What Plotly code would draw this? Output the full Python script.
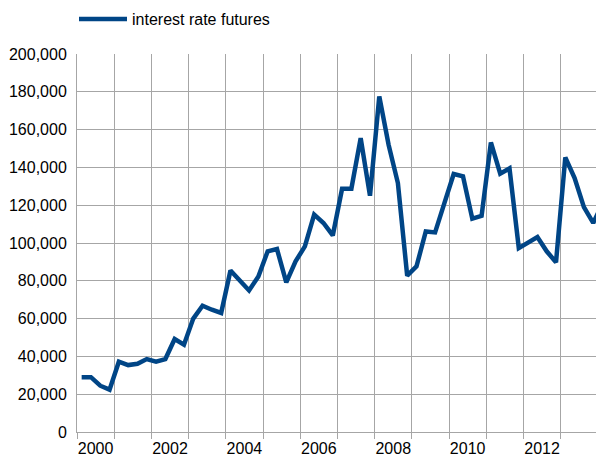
import plotly.graph_objects as go

# Quarterly observations, 2000 Q1 .. 2014 Q1
quarters = [f"{y}Q{q}" for y in range(2000, 2014) for q in range(1, 5)] + ["2014Q1"]
values = [
    29000, 29000, 24500, 22400,
    37200, 35400, 36100, 38600,
    37200, 38600, 49200, 46200,
    60000, 66800, 64700, 63000,
    85500, 80600, 74900, 82300,
    95600, 96800, 79200, 90300,
    98200, 115000, 110600, 104000,
    128700, 128700, 155500, 125000,
    177600, 152000, 131700, 82700,
    87600, 106100, 105600, 121100,
    136500, 135300, 112900, 114400,
    153200, 136700, 139500, 97300,
    100000, 103200, 95600, 89800,
    145300, 134400, 119000, 110600,
    120800,
]
series_name = "interest rate futures"
label_years = [2000, 2002, 2004, 2006, 2008, 2010, 2012]
grid_years = list(range(2000, 2015))
y_ticks = list(range(0, 200001, 20000))


def quarter_mid(q):
    y, n = q.split("Q")
    return int(y) + (int(n) - 0.5) / 4


x = [quarter_mid(q) for q in quarters]

fig = go.Figure(
    go.Scatter(
        x=x, y=values, mode="lines", name=series_name,
        line=dict(color="#004586", width=4.5),
    )
)

font = dict(family="Liberation Sans, Arial, sans-serif", size=16, color="#000000")
grid_col = "#a6a6a6"

# The page body adds an 8px offset, so the figure is 8px smaller.
W, H = 596, 453

fig.update_layout(
    width=W, height=H,
    margin=dict(l=69, r=0, t=46, b=29, autoexpand=False),
    paper_bgcolor="white", plot_bgcolor="white",
    font=font,
    showlegend=True,
    legend=dict(
        orientation="h",
        x=66 / W, xref="container", xanchor="left",
        y=1 - 11 / H, yref="container", yanchor="middle",
        font=font, itemwidth=48, bgcolor="rgba(0,0,0,0)",
    ),
    xaxis=dict(
        range=[2000, 2014.165],
        tickmode="array",
        tickvals=[yr + 0.5 for yr in label_years],
        ticktext=[str(yr) for yr in label_years],
        showgrid=False, ticks="", zeroline=False,
        showline=True, linecolor=grid_col, linewidth=1,
        ticklabelstandoff=2, automargin=False,
        minor=dict(
            tickmode="array", tickvals=grid_years,
            showgrid=True, gridcolor=grid_col, gridwidth=1,
            ticks="outside", ticklen=6, tickcolor=grid_col,
        ),
        fixedrange=True,
    ),
    yaxis=dict(
        range=[0, 200000],
        tickmode="array", tickvals=y_ticks,
        tickformat=",",
        showgrid=True, gridcolor=grid_col, gridwidth=1,
        zeroline=False,
        showline=True, linecolor=grid_col, linewidth=1,
        ticks="", ticklabelstandoff=6, automargin=False,
        fixedrange=True,
    ),
)

fig.write_html("out.html")
